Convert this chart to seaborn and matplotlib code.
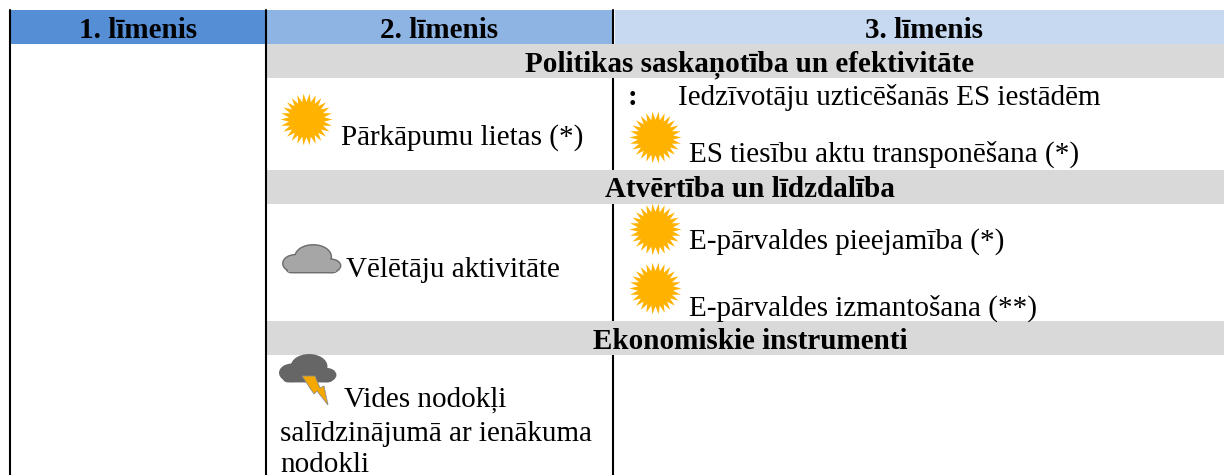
"""Indikatoru tabula ar laika apstaklu ikonam"""
import numpy as np
import matplotlib.pyplot as plt
from matplotlib.patches import Ellipse, Polygon, Rectangle, FancyBboxPatch
from matplotlib.path import Path
import seaborn as sns

# tabulas teksti
header_labels = ['1. līmenis', '2. līmenis', '3. līmenis']
section_titles = ['Politikas saskaņotība un efektivitāte', 'Atvērtība un līdzdalība', 'Ekonomiskie instrumenti']
level2_labels = ['Pārkāpumu lietas (*)', 'Vēlētāju aktivitāte', 'Vides nodokļi', 'salīdzinājumā ar ienākuma', 'nodokli']
level3_labels = ['Iedzīvotāju uzticēšanās ES iestādēm', 'ES tiesību aktu transponēšana (*)',
                 'E-pārvaldes pieejamība (*)', 'E-pārvaldes izmantošana (**)']

# izkartojums pikselos
header_x = [(11, 265), (267, 612), (615, 1224)]
header_text_x = [138, 439, 924]
header_colors = ['#558ED5', '#8EB4E3', '#C6D9F1']
section_y = [(44, 78), (170, 204), (321, 355)]
section_base = [71, 197, 349]
level2_pos = [(341, 145), (346, 277), (344, 407), (280, 441), (280, 472)]
level3_pos = [(678, 105), (689, 162), (689, 249), (689, 316)]
sun_x = [306, 655, 655, 655]
sun_y = [119, 137, 229, 288]

sns.set_theme(style='white')
plt.rcParams['font.family'] = ['Liberation Serif', 'DejaVu Serif']

fig = plt.figure(figsize=(12.24, 4.75), dpi=100)
ax = fig.add_axes([0, 0, 1, 1])
ax.set_xlim(0, 1224)
ax.set_ylim(475, 0)
ax.axis('off')


def sun_marker(rays=26, inner=0.68):
    angles = np.linspace(0, 2 * np.pi, rays * 2, endpoint=False)
    radius = np.where(np.arange(rays * 2) % 2 == 0, 1.0, inner)
    verts = np.column_stack([radius * np.cos(angles), radius * np.sin(angles)])
    verts = np.vstack([verts, verts[0]])
    codes = [Path.MOVETO] + [Path.LINETO] * (len(verts) - 2) + [Path.CLOSEPOLY]
    return Path(verts, codes)


def draw_cloud(x, y, w, h, face, edge):
    # lobes: x, y, w, h as a share of the icon box
    lobes = [(0.22, 0.66, 0.44, 0.62), (0.52, 0.42, 0.62, 0.84), (0.82, 0.74, 0.34, 0.46)]
    base = FancyBboxPatch((x + 0.06 * w, y + 0.62 * h), 0.88 * w, 0.36 * h, boxstyle='round,pad=0,rounding_size=5',
                          fc=face, ec=edge, lw=1.4, zorder=3)
    ax.add_patch(base)
    for lx, ly, lw_, lh in lobes:
        ax.add_patch(Ellipse((x + lx * w, y + ly * h), lw_ * w, lh * h, fc=face, ec=edge, lw=1.4, zorder=3))
    for lx, ly, lw_, lh in lobes:
        ax.add_patch(Ellipse((x + lx * w, y + ly * h), lw_ * w - 1, lh * h - 1, fc=face, ec='none', zorder=4))
    ax.add_patch(Rectangle((x + 0.08 * w, y + 0.64 * h), 0.84 * w, 0.32 * h, fc=face, ec='none', zorder=4))


# galvene un sadalu joslas
for (x0, x1), color in zip(header_x, header_colors):
    ax.add_patch(Rectangle((x0, 10), x1 - x0, 34, fc=color, ec='none', zorder=1))
for y0, y1 in section_y:
    ax.add_patch(Rectangle((267, y0), 957, y1 - y0, fc='#D9D9D9', ec='none', zorder=2))

# kolonnu linijas
ax.plot([10, 10], [10, 475], color='black', lw=1.5, zorder=3)
ax.plot([265.5, 265.5], [10, 475], color='black', lw=1.5, zorder=3)
ax.plot([613, 613], [10, 475], color='black', lw=1.5, zorder=1.5)

for label, x in zip(header_labels, header_text_x):
    ax.text(x, 38, label, ha='center', va='baseline', fontsize=21, fontweight='bold', color='black', zorder=5)
for label, y in zip(section_titles, section_base):
    ax.text(750, y, label, ha='center', va='baseline', fontsize=21, fontweight='bold', color='black', zorder=5)
for label, (x, y) in zip(level2_labels, level2_pos):
    ax.text(x, y, label, ha='left', va='baseline', fontsize=21, color='black', zorder=5)
for label, (x, y) in zip(level3_labels, level3_pos):
    ax.text(x, y, label, ha='left', va='baseline', fontsize=21, color='black', zorder=5)
ax.text(632, 105, ':', ha='center', va='baseline', fontsize=21, fontweight='bold', color='black', zorder=5)

# ikonas
sns.scatterplot(x=sun_x, y=sun_y, marker=sun_marker(), s=1400, color='#FFB200', linewidth=0, ax=ax, legend=False, zorder=4)
draw_cloud(283, 245, 58, 28, '#A6A6A6', '#6E6E6E')
draw_cloud(280, 355, 56, 27, '#666666', '#666666')
ax.add_patch(Polygon([(302, 376), (315, 376), (320, 388), (324, 386), (328, 405), (317, 391), (314, 394)],
                     fc='#F5A800', ec='#8A8A8A', lw=0.6, zorder=5))

fig.savefig('out.png', dpi=100)
